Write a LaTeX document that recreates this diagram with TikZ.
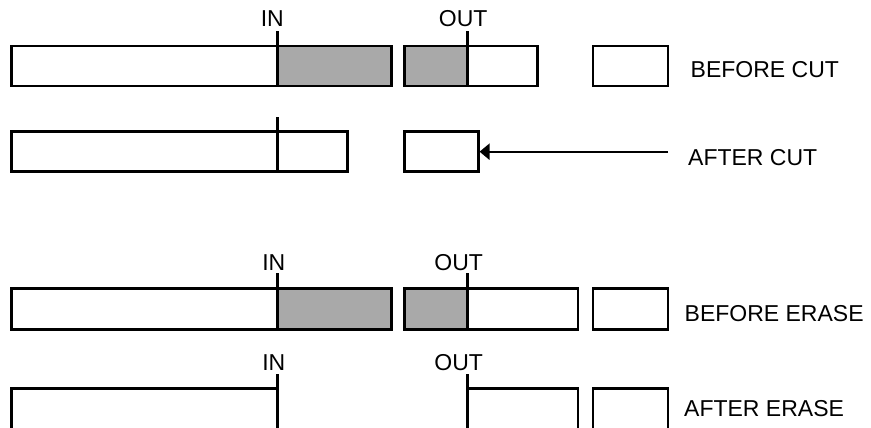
\documentclass[tikz,border=0pt]{standalone}
\usepackage{fontspec}
\setmainfont{Liberation Sans}
\usetikzlibrary{positioning, arrows.meta}
\definecolor{markgray}{RGB}{169,169,169}

\tikzset{
  tape/.style={draw=black, line width=2.5pt},
  marked/.style={fill=markgray},
  lbl/.style={inner sep=0pt, font=\fontsize{23}{27}\selectfont},
}

\begin{document}
\begin{tikzpicture}[x=1pt, y=-1pt]
\useasboundingbox (0,0) rectangle (871,428);

% Vor dem Schnitt
\fill[marked] (277.3,46) rectangle (391.7,86);
\fill[marked] (404.3,46) rectangle (467.7,86);
\draw[tape] (11.7,46) rectangle (391.7,86);
\draw[tape] (404.3,46) rectangle (537.7,86);
\draw[tape] (593,46) rectangle (668,86);
\draw[tape] (277.3,86) -- (277.3,30.7) node[lbl, above=3pt, xshift=-5pt] (in1) {IN};
\draw[tape] (467.7,86) -- (467.7,30.7) node[lbl, above=3pt, xshift=-4.5pt] (out1) {OUT};
\node[lbl, anchor=base west] (beforecut) at (690.5,77.3) {BEFORE CUT};

% Nach dem Schnitt
\draw[tape] (11.7,131.7) rectangle (347.7,171.7);
\draw[tape] (277.3,171.7) -- (277.3,116.7);
\node[tape, inner sep=0pt, minimum width=74pt, minimum height=40pt] (rest) at (441.3,151.7) {};
\node[lbl, anchor=base west] (aftercut) at (688,165.7) {AFTER CUT};
\coordinate (cutfrom) at (668,151.7);
\draw[line width=2.2pt, -{Triangle[length=10pt,width=16pt]}] (cutfrom) -- (rest.east);

% Vor dem Loeschen
\fill[marked] (277.3,288.3) rectangle (391.7,329.3);
\fill[marked] (404.3,288.3) rectangle (467.7,329.3);
\draw[tape] (11.7,288.3) rectangle (391.7,329.3);
\draw[tape] (404.3,288.3) rectangle (578,329.3);
\draw[tape] (593,288.3) rectangle (668,329.3);
\draw[tape] (277.3,329.3) -- (277.3,273.3) node[lbl, above=1.6pt, xshift=-3.5pt] (in3) {IN};
\draw[tape] (467.7,329.3) -- (467.7,273.3) node[lbl, above=1.6pt, xshift=-9pt] (out3) {OUT};
\node[lbl, anchor=base west] (beforeerase) at (684.5,321.7) {BEFORE ERASE};

% Nach dem Loeschen
\draw[tape] (277.3,374) -- (277.3,388.3) -- (11.7,388.3) -- (11.7,429.3) -- (277.3,429.3) -- cycle;
\draw[tape] (467.7,374) -- (467.7,388.3) -- (578,388.3) -- (578,429.3) -- (467.7,429.3) -- cycle;
\draw[tape] (593,388.3) rectangle (668,429.3);
\node[lbl, above=3.3pt, xshift=-3.5pt] (in4) at (277.3,374) {IN};
\node[lbl, above=3.3pt, xshift=-9pt] (out4) at (467.7,374) {OUT};
\node[lbl, anchor=base west] (aftererase) at (684,416.7) {AFTER ERASE};

\end{tikzpicture}
\end{document}
